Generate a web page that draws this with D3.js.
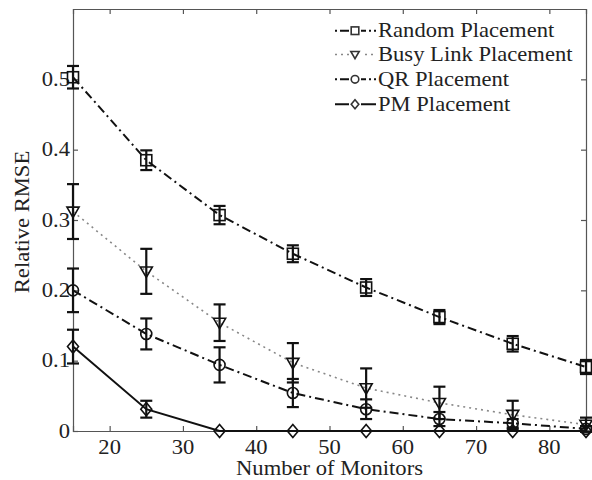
<!DOCTYPE html>
<html>
<head>
<meta charset="utf-8">
<script src="https://cdn.jsdelivr.net/npm/d3@7"></script>
<style>
  html, body { margin: 0; padding: 0; background: #fff; }
  svg { display: block; }
</style>
</head>
<body>
<svg id="chart" width="592" height="480"></svg>
<script>
// Relative RMSE versus number of monitors for four placement strategies
const monitors = [15, 25, 35, 45, 55, 65, 75, 85];

const randomMean = [0.503, 0.385, 0.307, 0.252, 0.204, 0.162, 0.124, 0.091];
const randomErr  = [0.016, 0.014, 0.013, 0.012, 0.012, 0.010, 0.011, 0.010];

const busyMean = [0.312, 0.227, 0.154, 0.097, 0.061, 0.040, 0.023, 0.009];
const busyErr  = [0.039, 0.032, 0.026, 0.028, 0.028, 0.023, 0.020, 0.010];

const qrMean = [0.200, 0.138, 0.094, 0.054, 0.031, 0.017, 0.011, 0.003];
const qrErr  = [0.031, 0.022, 0.025, 0.020, 0.014, 0.010, 0.006, 0.004];

const pmMean = [0.120, 0.031, 0, 0, 0, 0, 0, 0];
const pmErr  = [0.024, 0.012, 0, 0, 0, 0, 0, 0];

const seriesNames = ["Random Placement", "Busy Link Placement", "QR Placement", "PM Placement"];
const xTicks = [20, 30, 40, 50, 60, 70, 80];
const yTicks = [0, 0.1, 0.2, 0.3, 0.4, 0.5];
const xLabel = "Number of Monitors";
const yLabel = "Relative RMSE";

const series = [
  { name: seriesNames[0], mean: randomMean, err: randomErr, marker: "square",
    stroke: "#111", width: 2, dash: "9,4,2,4" },
  { name: seriesNames[1], mean: busyMean, err: busyErr, marker: "triangle",
    stroke: "#888", width: 1.6, dash: "2,4" },
  { name: seriesNames[2], mean: qrMean, err: qrErr, marker: "circle",
    stroke: "#111", width: 2, dash: "9,4,2,4" },
  { name: seriesNames[3], mean: pmMean, err: pmErr, marker: "diamond",
    stroke: "#111", width: 2, dash: null }
];

const svg = d3.select("#chart");
const plotLeft = 73, plotRight = 586, plotTop = 9, plotBottom = 431;
const x = d3.scaleLinear().domain([15, 85]).range([plotLeft, plotRight]);
const y = d3.scaleLinear().domain([0, 0.6]).range([plotBottom, plotTop]);

const FONT = "'Liberation Serif', 'Times New Roman', serif";
const STRETCH = 1.13;
const textColor = "#222";

function label(g, str, tx, ty, opts = {}) {
  const rot = opts.rotate || 0;
  return g.append("text")
    .attr("transform", `translate(${tx},${ty}) rotate(${rot}) scale(${STRETCH},1)`)
    .attr("text-anchor", opts.anchor || "start")
    .attr("font-family", FONT)
    .attr("font-size", opts.size || 20)
    .attr("fill", textColor)
    .text(str);
}

// axes (D3 axes for ticks; labels drawn separately)
const tickLen = 5;
const axisColor = "#555";

const gx = svg.append("g").attr("transform", `translate(0,${plotBottom})`)
  .call(d3.axisBottom(x).tickValues(xTicks).tickSize(-tickLen).tickFormat(""));
const gxTop = svg.append("g").attr("transform", `translate(0,${plotTop})`)
  .call(d3.axisTop(x).tickValues(xTicks).tickSize(-tickLen).tickFormat(""));
const gy = svg.append("g").attr("transform", `translate(${plotLeft},0)`)
  .call(d3.axisLeft(y).tickValues(yTicks).tickSize(-tickLen).tickFormat(""));
const gyRight = svg.append("g").attr("transform", `translate(${plotRight},0)`)
  .call(d3.axisRight(y).tickValues(yTicks).tickSize(-tickLen).tickFormat(""));

[gx, gxTop, gy, gyRight].forEach(g => {
  g.selectAll("path.domain").attr("stroke", axisColor).attr("stroke-width", 1.2);
  g.selectAll(".tick line").attr("stroke", axisColor).attr("stroke-width", 1.2);
});

// tick labels
const labels = svg.append("g");
xTicks.forEach(t => label(labels, String(t), x(t), 453.5, { anchor: "middle" }));
yTicks.forEach(t => label(labels, d3.format("~g")(t), plotLeft - 3, y(t) + 6.5, { anchor: "end" }));

// axis titles
label(labels, xLabel, (plotLeft + plotRight) / 2, 475, { anchor: "middle" });
label(labels, yLabel, 29, 222, { anchor: "middle", rotate: -90 });

// marker shapes
function drawMarker(g, type, cx, cy, s, stroke) {
  const sw = 1.6;
  if (type === "square") {
    g.append("rect").attr("x", cx - s).attr("y", cy - s)
      .attr("width", 2 * s).attr("height", 2 * s)
      .attr("fill", "none").attr("stroke", stroke).attr("stroke-width", sw);
  } else if (type === "circle") {
    g.append("circle").attr("cx", cx).attr("cy", cy).attr("r", s)
      .attr("fill", "none").attr("stroke", stroke).attr("stroke-width", sw);
  } else if (type === "triangle") {
    const pts = [[cx - s * 1.1, cy - s * 0.8], [cx + s * 1.1, cy - s * 0.8], [cx, cy + s * 1.1]];
    g.append("polygon").attr("points", pts.map(p => p.join(",")).join(" "))
      .attr("fill", "none").attr("stroke", stroke).attr("stroke-width", sw);
  } else if (type === "diamond") {
    const pts = [[cx, cy - s * 1.2], [cx + s, cy], [cx, cy + s * 1.2], [cx - s, cy]];
    g.append("polygon").attr("points", pts.map(p => p.join(",")).join(" "))
      .attr("fill", "none").attr("stroke", stroke).attr("stroke-width", sw);
  }
}

const line = d3.line().x(d => x(d.m)).y(d => y(d.v));

// series: line, error bars, markers
series.forEach(s => {
  const pts = monitors.map((m, i) => ({ m, v: s.mean[i], e: s.err[i] }));
  const g = svg.append("g");
  g.append("path").datum(pts)
    .attr("d", line)
    .attr("fill", "none")
    .attr("stroke", s.stroke)
    .attr("stroke-width", s.width)
    .attr("stroke-dasharray", s.dash);

  const cap = 6;
  pts.filter(p => p.e > 0).forEach(p => {
    const x0 = x(p.m), y1 = y(p.v + p.e), y2 = y(p.v - p.e);
    g.append("line").attr("x1", x0).attr("x2", x0).attr("y1", y1).attr("y2", y2)
      .attr("stroke", "#111").attr("stroke-width", 2.2);
    [y1, y2].forEach(yy => g.append("line")
      .attr("x1", x0 - cap).attr("x2", x0 + cap).attr("y1", yy).attr("y2", yy)
      .attr("stroke", "#111").attr("stroke-width", 2.2));
  });

  pts.forEach(p => drawMarker(g, s.marker, x(p.m), y(p.v), 5.5, "#111"));
});

// legend
const legend = svg.append("g");
const legY = [30.7, 54.5, 79.3, 104.3];
series.forEach((s, i) => {
  const cy = legY[i];
  legend.append("line")
    .attr("x1", 335).attr("x2", 376).attr("y1", cy).attr("y2", cy)
    .attr("stroke", s.stroke).attr("stroke-width", s.width)
    .attr("stroke-dasharray", s.dash ? (s.dash === "2,4" ? "2,4" : "2,3,9,3") : null);
  legend.append("rect").attr("x", 349).attr("y", cy - 6).attr("width", 12).attr("height", 12)
    .attr("fill", "#fff");
  drawMarker(legend, s.marker, 355, cy, 3.8, "#333");
  label(legend, s.name, 378, cy + 6.7);
});
</script>
</body>
</html>
